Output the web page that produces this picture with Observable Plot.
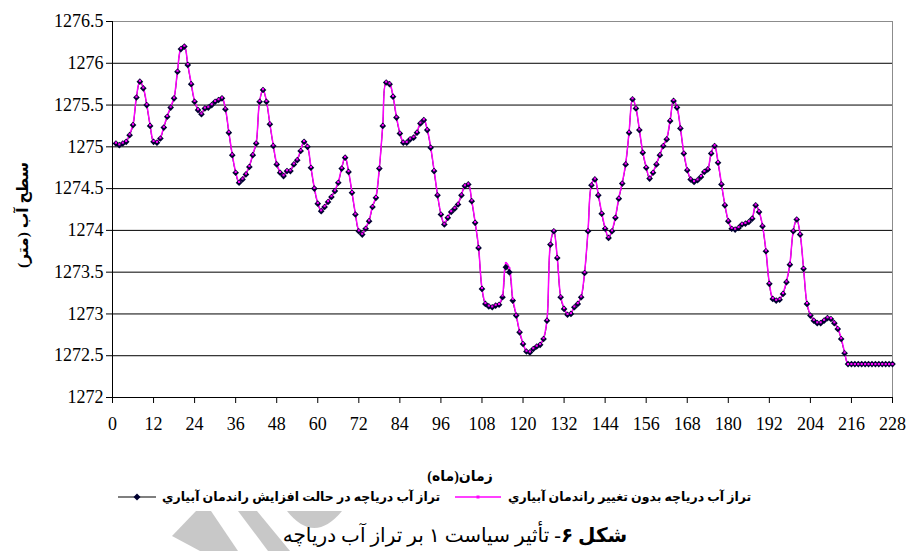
<!DOCTYPE html>
<html><head><meta charset="utf-8">
<script src="https://cdn.jsdelivr.net/npm/d3@7"></script>
<script src="https://cdn.jsdelivr.net/npm/@observablehq/plot@0.6"></script>
<style>
body{margin:0;background:#fff;}
#wrap{position:relative;width:906px;height:551px;overflow:hidden;font-family:"Liberation Serif","DejaVu Sans",serif;color:#000;}
#chart{position:absolute;left:0;top:0;}
.t{position:absolute;white-space:nowrap;}
#ytitle{left:23px;top:215px;transform:translate(-50%,-50%) rotate(-90deg);font-weight:bold;font-size:15.5px;}
#xtitle{left:460px;top:476px;transform:translate(-50%,-50%);font-weight:bold;font-size:14px;}
.leg{top:497px;transform:translateY(-50%);font-weight:bold;font-size:12.5px;}
#caption{left:455px;top:535px;transform:translate(-50%,-50%);font-size:20px;}
</style></head><body>
<div id="wrap">
<svg id="wm" width="906" height="551" style="position:absolute;left:0;top:0">
  <polygon points="172,536 196,511 211,511 238,551 200,551" fill="#c8c8c8"/>
  <polygon points="238,511 257,511 290,551 268,551" fill="#c8c8c8"/>
  <path d="M287,511 L342,511 Q314,545 287,511 Z" fill="#c8c8c8"/>
</svg>
<div id="chart"></div>
<div class="t" id="ytitle" dir="rtl">سطح آب (متر)</div>
<div class="t" id="xtitle" dir="rtl">زمان(ماه)</div>
<svg class="t" style="left:118px;top:491px" width="40" height="12">
  <line x1="0" y1="6" x2="38" y2="6" stroke="#000" stroke-width="1.2"/>
  <path d="M19,2.5 L22.5,6 L19,9.5 L15.5,6 Z" fill="#000030"/>
</svg>
<div class="t leg" id="leg1" dir="rtl" style="left:162px">تراز آب درياچه در حالت افزايش راندمان آبياري</div>
<svg class="t" style="left:455px;top:491px" width="48" height="12">
  <line x1="0" y1="6" x2="46" y2="6" stroke="#ff00ff" stroke-width="1.5"/>
  <rect x="21.5" y="4.5" width="3" height="3" fill="#ff00ff"/>
</svg>
<div class="t leg" id="leg2" dir="rtl" style="left:508px">تراز آب درياچه بدون تغيير راندمان آبياري</div>
<div class="t" id="caption" dir="rtl"><b>شکل ۶</b>- تأثير سياست ۱ بر تراز آب درياچه</div>
</div>
<script>
const months = d3.range(1, 229);
const levelIncrease = [
1275.04,1275.02,1275.04,1275.06,1275.14,1275.26,1275.59,1275.78,1275.70,1275.50,
1275.25,1275.06,1275.05,1275.10,1275.23,1275.36,1275.47,1275.58,1275.90,1276.17,
1276.20,1275.98,1275.75,1275.54,1275.44,1275.39,1275.46,1275.47,1275.50,1275.54,
1275.56,1275.58,1275.45,1275.17,1274.90,1274.69,1274.57,1274.61,1274.67,1274.76,
1274.90,1275.04,1275.54,1275.68,1275.54,1275.27,1275.01,1274.79,1274.69,1274.65,
1274.71,1274.71,1274.79,1274.84,1274.95,1275.06,1275.00,1274.75,1274.50,1274.32,
1274.23,1274.28,1274.34,1274.40,1274.47,1274.57,1274.74,1274.87,1274.70,1274.45,
1274.19,1273.99,1273.95,1274.02,1274.11,1274.28,1274.39,1274.74,1275.25,1275.77,
1275.75,1275.60,1275.35,1275.16,1275.05,1275.05,1275.09,1275.11,1275.17,1275.28,
1275.32,1275.20,1274.99,1274.71,1274.42,1274.19,1274.07,1274.15,1274.22,1274.26,
1274.31,1274.42,1274.53,1274.55,1274.35,1274.09,1273.79,1273.30,1273.12,1273.09,
1273.08,1273.10,1273.11,1273.20,1273.56,1273.50,1273.16,1272.98,1272.78,1272.64,
1272.55,1272.54,1272.58,1272.61,1272.63,1272.70,1272.92,1273.83,1273.99,1273.67,
1273.20,1273.06,1272.99,1273.00,1273.08,1273.12,1273.20,1273.49,1273.99,1274.54,
1274.61,1274.42,1274.20,1274.02,1273.91,1273.99,1274.15,1274.38,1274.56,1274.79,
1275.17,1275.57,1275.46,1275.20,1274.93,1274.75,1274.62,1274.69,1274.79,1274.90,
1275.01,1275.09,1275.31,1275.55,1275.47,1275.22,1274.92,1274.72,1274.61,1274.58,
1274.60,1274.64,1274.70,1274.73,1274.92,1275.01,1274.81,1274.55,1274.30,1274.11,
1274.02,1274.01,1274.03,1274.07,1274.08,1274.10,1274.14,1274.30,1274.22,1274.05,
1273.75,1273.36,1273.18,1273.16,1273.17,1273.24,1273.38,1273.59,1273.99,1274.13,
1273.95,1273.54,1273.12,1272.98,1272.92,1272.89,1272.89,1272.92,1272.95,1272.94,
1272.89,1272.82,1272.70,1272.53,1272.40,1272.40,1272.40,1272.40,1272.40,1272.40,
1272.40,1272.40,1272.40,1272.40,1272.40,1272.40,1272.40,1272.40];
const levelNoChange = [
1275.05,1275.03,1275.05,1275.07,1275.15,1275.27,1275.60,1275.79,1275.71,1275.51,
1275.26,1275.07,1275.06,1275.11,1275.24,1275.37,1275.48,1275.59,1275.91,1276.18,
1276.21,1275.99,1275.76,1275.55,1275.45,1275.40,1275.47,1275.48,1275.51,1275.55,
1275.57,1275.59,1275.46,1275.18,1274.91,1274.70,1274.58,1274.62,1274.68,1274.77,
1274.91,1275.05,1275.55,1275.69,1275.55,1275.28,1275.02,1274.80,1274.70,1274.66,
1274.72,1274.72,1274.80,1274.85,1274.96,1275.07,1275.01,1274.76,1274.51,1274.33,
1274.24,1274.29,1274.35,1274.41,1274.48,1274.58,1274.75,1274.88,1274.71,1274.46,
1274.20,1274.00,1273.96,1274.03,1274.12,1274.29,1274.40,1274.75,1275.26,1275.78,
1275.76,1275.61,1275.36,1275.17,1275.06,1275.06,1275.10,1275.12,1275.18,1275.29,
1275.33,1275.21,1275.00,1274.72,1274.43,1274.20,1274.08,1274.16,1274.23,1274.27,
1274.32,1274.43,1274.54,1274.56,1274.36,1274.10,1273.80,1273.31,1273.13,1273.10,
1273.09,1273.11,1273.12,1273.22,1273.61,1273.55,1273.18,1272.99,1272.79,1272.65,
1272.56,1272.55,1272.59,1272.62,1272.64,1272.71,1272.93,1273.84,1274.00,1273.68,
1273.21,1273.07,1273.00,1273.01,1273.09,1273.13,1273.21,1273.50,1274.00,1274.55,
1274.62,1274.43,1274.21,1274.03,1273.92,1274.00,1274.16,1274.39,1274.57,1274.80,
1275.18,1275.58,1275.47,1275.21,1274.94,1274.76,1274.63,1274.70,1274.80,1274.91,
1275.02,1275.10,1275.32,1275.56,1275.48,1275.23,1274.93,1274.73,1274.62,1274.59,
1274.61,1274.65,1274.71,1274.74,1274.93,1275.02,1274.82,1274.56,1274.31,1274.12,
1274.03,1274.02,1274.04,1274.08,1274.09,1274.11,1274.15,1274.31,1274.23,1274.06,
1273.76,1273.37,1273.19,1273.17,1273.18,1273.25,1273.39,1273.60,1274.00,1274.14,
1273.96,1273.55,1273.13,1272.99,1272.93,1272.90,1272.90,1272.93,1272.96,1272.95,
1272.90,1272.83,1272.71,1272.54,1272.40,1272.40,1272.40,1272.40,1272.40,1272.40,
1272.40,1272.40,1272.40,1272.40,1272.40,1272.40,1272.40,1272.40];
const xTicks = d3.range(0, 229, 12);
const yTicks = d3.range(1272, 1276.51, 0.5);

const inc = months.map((m, i) => ({m, v: levelIncrease[i]}));
const noc = months.map((m, i) => ({m, v: levelNoChange[i]}));

const chart = Plot.plot({
  width: 906, height: 440,
  marginLeft: 112, marginRight: 14, marginTop: 21, marginBottom: 43,
  style: {fontFamily: "'Liberation Serif', serif", fontSize: "18px", background: "transparent", overflow: "visible", color: "#000"},
  x: {domain: [0, 228], ticks: xTicks, tickSize: 6, tickPadding: 14, label: null, tickFormat: d => String(d)},
  y: {domain: [1272, 1276.5], ticks: yTicks, tickSize: 6, tickPadding: 3, label: null, tickFormat: d => String(d)},
  marks: [
    Plot.ruleY(yTicks.filter(t => t > 1272 && t < 1276.5), {stroke: "#000", strokeWidth: 1}),
    Plot.ruleY([1276.5], {stroke: "#8c8c8c", strokeWidth: 1}),
    Plot.ruleX([228], {stroke: "#8c8c8c", strokeWidth: 1}),
    Plot.ruleX([0], {stroke: "#000", strokeWidth: 1}),
    Plot.ruleY([1272], {stroke: "#000", strokeWidth: 1}),
    Plot.line(inc, {x: "m", y: "v", stroke: "#000", strokeWidth: 1, curve: "catmull-rom"}),
    Plot.line(noc, {x: "m", y: "v", stroke: "#ff00ff", strokeWidth: 1.5, curve: "catmull-rom"}),
    Plot.dot(inc, {x: "m", y: "v", symbol: "diamond2", r: 3, fill: "#000030", stroke: "none"}),
    Plot.dot(noc, {x: "m", y: "v", symbol: "square", r: 1.2, fill: "#ff00ff", stroke: "none"})
  ]
});
document.getElementById("chart").appendChild(chart);
</script>
</body></html>
